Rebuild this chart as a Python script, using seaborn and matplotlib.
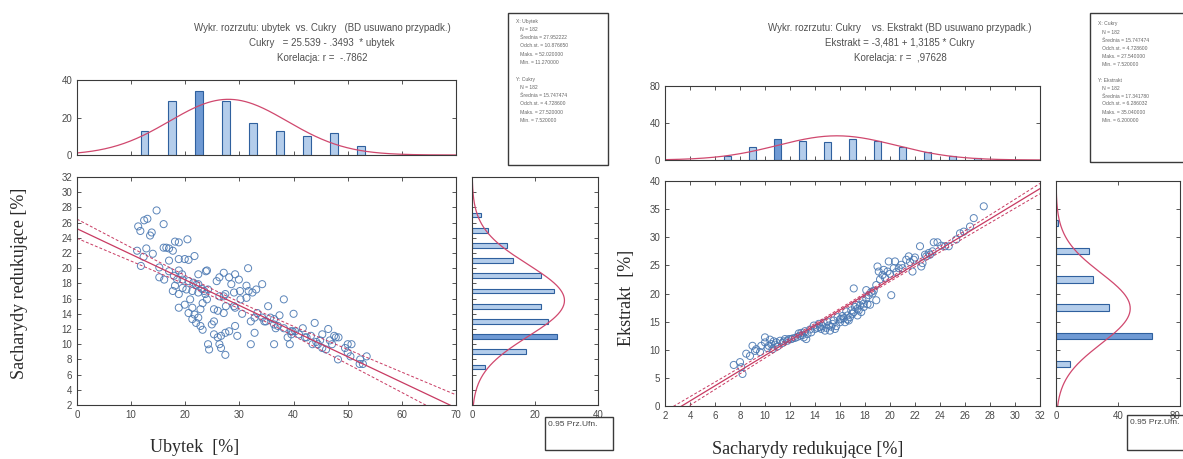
import numpy as np
import pandas as pd
import matplotlib
matplotlib.use("Agg")
import matplotlib.pyplot as plt
import seaborn as sns
from matplotlib.patches import Rectangle

# ---------------- data: left panel (Ubytek vs Cukry) ----------------
ubytek = [14.7, 13.0, 12.4, 11.3, 11.7, 13.8, 13.5, 16.0, 11.1, 12.8, 12.3, 11.8, 14.0, 16.0, 16.5,
          17.0, 18.1, 18.8, 20.4, 17.7, 18.8, 19.9, 20.6, 21.7, 17.0, 15.2, 15.2, 16.1, 17.0, 17.9,
          18.8, 19.4, 18.5, 19.5, 20.6, 21.5, 22.4, 23.8, 24.0, 22.4, 18.1, 17.7, 18.8, 19.5, 20.2,
          21.3, 22.4, 23.5, 24.2, 23.7, 20.9, 19.9, 18.8, 21.3, 20.6, 21.7, 22.4, 21.3, 22.0, 22.8,
          23.2, 22.8, 23.2, 24.0, 25.3, 26.0, 27.1, 26.3, 27.1, 27.4, 25.8, 26.3, 27.1, 28.1, 28.5,
          29.2, 29.9, 29.0, 30.1, 31.6, 29.0, 29.2, 30.2, 31.3, 31.7, 32.4, 33.1, 34.2, 32.1, 32.8,
          33.3, 34.2, 34.9, 35.3, 35.7, 36.4, 36.4, 36.7, 37.4, 38.2, 40.0, 39.5, 39.6, 38.9, 40.3,
          41.0, 41.7, 42.1, 43.2, 43.5, 44.2, 43.9, 44.9, 45.3, 46.4, 45.3, 46.0, 47.1, 47.8, 48.3,
          48.2, 50.0, 49.5, 50.7, 50.0, 50.5, 52.3, 52.8, 53.5, 52.2, 24.2, 24.4, 25.3, 26.0, 26.3,
          26.6, 27.4, 26.6, 27.4, 28.1, 29.2, 29.6, 24.9, 25.3, 32.1, 32.8, 36.4, 38.2, 39.3, 34.6,
          37.1, 39.8, 42.4, 44.5, 46.7, 47.5, 23.0, 22.0, 27.5, 30.5, 31.3]
cukry = [27.6, 26.5, 26.3, 25.5, 24.9, 24.7, 24.3, 25.8, 22.3, 22.6, 21.5, 20.3, 21.9, 22.7, 22.7,
         22.6, 23.5, 23.4, 23.8, 22.3, 21.2, 21.2, 21.1, 21.6, 21.0, 20.1, 18.8, 18.5, 19.6, 19.0,
         19.7, 19.2, 18.5, 18.5, 18.3, 18.1, 17.9, 19.6, 19.7, 19.2, 17.7, 17.0, 16.6, 17.4, 17.2,
         17.0, 16.8, 17.0, 17.2, 16.6, 15.9, 15.2, 14.8, 14.8, 14.1, 13.9, 13.5, 13.3, 12.8, 12.4,
         11.9, 14.6, 15.4, 15.9, 14.6, 14.4, 14.1, 16.3, 16.3, 16.6, 18.3, 18.8, 19.4, 18.8, 17.9,
         19.2, 18.5, 16.8, 17.0, 20.0, 15.0, 14.8, 15.9, 16.1, 17.0, 16.8, 17.2, 17.9, 13.0, 13.5,
         14.1, 13.5, 13.0, 15.0, 13.5, 13.3, 12.6, 12.1, 13.8, 15.9, 14.0, 11.7, 11.3, 10.9, 11.7,
         11.3, 12.1, 10.9, 11.1, 10.0, 10.3, 12.8, 10.5, 11.3, 12.0, 9.5, 9.3, 10.0, 10.9, 10.9,
         8.0, 10.0, 9.5, 10.0, 8.9, 8.4, 8.0, 7.4, 8.4, 7.4, 10.0, 9.3, 11.3, 10.9, 10.0,
         9.5, 8.6, 11.1, 11.5, 11.7, 12.4, 11.1, 12.6, 13.0, 10.0, 11.5, 10.0, 12.1, 10.0, 13.0,
         12.4, 11.7, 10.9, 10.0, 10.5, 11.1, 17.3, 17.8, 15.0, 14.0, 17.7]

ub_bin_centers = [12.5, 17.5, 22.5, 27.5, 32.5, 37.5, 42.5, 47.5, 52.5]
ub_counts = [13, 29, 34, 29, 17, 13, 10, 12, 5]
cu_bin_centers = [7, 9, 11, 13, 15, 17, 19, 21, 23, 25, 27]
cu_counts = [4, 17, 27, 24, 22, 26, 22, 13, 11, 5, 3]

left_title = ["Wykr. rozrzutu: ubytek  vs. Cukry   (BD usuwano przypadk.)",
              "Cukry   = 25.539 - .3493  * ubytek",
              "Korelacja: r =  -.7862"]
left_stats = ["X: Ubytek", "   N = 182", "   Średnia = 27.952222", "   Odch.st. = 10.876650",
              "   Maks. = 52.020000", "   Min. = 11.270000", "",
              "Y: Cukry", "   N = 182", "   Średnia = 15.747474", "   Odch.st. = 4.728600",
              "   Maks. = 27.520000", "   Min. = 7.520000"]
left_mean = [27.95, 15.75]
left_sd = [10.88, 4.73]

# ---------------- data: right panel (Cukry vs Ekstrakt) ----------------
cukry_r = [7.5, 8.1, 8.2, 8.0, 8.5, 9.0, 9.3, 9.7, 10.0, 10.0, 10.3, 10.5, 10.6, 10.9, 11.2,
           11.5, 11.8, 12.1, 12.4, 12.8, 13.1, 13.3, 13.4, 13.7, 14.0, 14.2, 14.5, 14.6, 14.8, 15.1,
           15.2, 15.4, 15.6, 15.7, 16.0, 16.1, 16.3, 16.4, 16.6, 16.7, 16.8, 17.0, 17.1, 17.2, 17.4,
           17.4, 17.6, 17.1, 17.7, 17.9, 17.9, 18.1, 18.1, 18.3, 18.5, 18.6, 18.9, 18.9, 19.1, 19.0,
           19.4, 19.5, 19.8, 19.9, 20.1, 20.3, 20.4, 20.7, 20.9, 21.3, 21.5, 21.8, 21.9, 22.4, 22.5,
           22.6, 22.9, 23.1, 23.2, 23.5, 23.8, 24.4, 24.7, 25.3, 25.6, 25.9, 26.4, 26.7, 27.5,
           10.2, 10.8, 11.0, 11.4, 11.9, 12.2, 12.6, 12.9, 13.2, 13.6, 13.9, 14.3, 14.7, 15.0, 15.5,
           15.8, 16.2, 16.5, 16.9, 17.3, 17.8, 18.2, 18.7, 19.2, 19.6, 20.0, 20.5, 21.0, 21.6, 22.0,
           22.8, 23.4, 24.1, 9.6, 9.2, 8.8, 10.4, 11.6, 12.7, 14.9, 16.6, 17.5, 13.0, 14.4, 15.3,
           16.0, 18.4, 10.7]
ekstrakt = [7.3, 6.9, 5.7, 7.8, 9.3, 10.7, 10.1, 10.7, 12.2, 11.3, 10.7, 11.0, 10.1, 11.3, 11.6,
            11.5, 11.6, 11.9, 12.1, 12.5, 12.2, 11.9, 12.8, 13.1, 13.7, 13.9, 13.7, 14.2, 13.4, 14.3,
            13.4, 14.6, 13.7, 14.2, 14.9, 15.5, 15.6, 14.9, 16.1, 15.2, 15.8, 16.4, 16.7, 17.6, 17.3,
            16.1, 17.9, 20.9, 16.7, 17.6, 18.2, 19.1, 20.6, 19.7, 20.3, 20.0, 18.8, 21.5, 23.9, 24.8,
            23.3, 24.2, 23.9, 25.7, 19.7, 24.5, 25.7, 24.5, 25.1, 26.0, 26.6, 23.9, 26.0, 28.4, 24.8,
            25.4, 26.6, 27.2, 26.9, 29.1, 29.1, 28.4, 28.4, 29.6, 30.7, 31.0, 31.9, 33.4, 35.5,
            10.3, 10.9, 10.6, 11.2, 11.9, 12.0, 12.3, 13.0, 13.3, 13.6, 14.3, 14.6, 14.8, 15.0, 15.2,
            15.8, 16.0, 16.8, 17.0, 18.0, 18.8, 18.1, 20.5, 22.5, 22.8, 23.5, 23.8, 24.5, 25.6, 26.4,
            26.9, 27.5, 28.5, 9.6, 9.8, 8.9, 11.8, 11.9, 12.9, 13.9, 15.4, 17.0, 12.6, 14.0, 14.1,
            15.4, 18.0, 11.5]

cr_bin_centers = [7, 9, 11, 13, 15, 17, 19, 21, 23, 25, 27]
cr_counts = [4, 14, 23, 21, 20, 23, 21, 14, 9, 4, 2]
ek_bin_centers = [7.5, 12.5, 17.5, 22.5, 27.5, 32.5]
ek_counts = [9, 62, 34, 24, 21, 1]

right_title = ["Wykr. rozrzutu: Cukry    vs. Ekstrakt (BD usuwano przypadk.)",
               "Ekstrakt = -3,481 + 1,3185 * Cukry",
               "Korelacja: r =  ,97628"]
right_stats = ["X: Cukry", "   N = 182", "   Średnia = 15.747474", "   Odch.st. = 4.728600",
               "   Maks. = 27.540000", "   Min. = 7.520000", "",
               "Y: Ekstrakt", "   N = 182", "   Średnia = 17.341780", "   Odch.st. = 6.286032",
               "   Maks. = 35.040000", "   Min. = 6.200000"]
right_mean = [15.75, 17.34]
right_sd = [4.73, 6.29]

# ---------------- styling ----------------
sns.set_theme(style="white")
plt.rcParams["font.family"] = ["Liberation Sans", "DejaVu Sans"]
W, H = 1183, 459
fig = plt.figure(figsize=(W / 100, H / 100), dpi=100)
fig.patch.set_facecolor("white")

PT_EDGE = "#4a78b2"
LINE_C = "#c83a62"
CURVE_C = "#d0486e"
BAR_FACE = "#b4cdeb"
BAR_EDGE = "#2f609e"
TXT = "#4a4a4a"


def fax(x0, y0, x1, y1):
    return fig.add_axes([x0 / W, 1 - y1 / H, (x1 - x0) / W, (y1 - y0) / H])


def style(ax, xl=True, yl=True):
    for s in ax.spines.values():
        s.set_color("#3a3a3a")
        s.set_linewidth(0.8)
    ax.tick_params(direction="in", length=3, width=0.6, colors="#3a3a3a",
                   top=True, right=True, bottom=True, left=True,
                   labelsize=7, labelcolor=TXT,
                   labelbottom=xl, labelleft=yl)
    ax.set_xlabel("")
    ax.set_ylabel("")
    ax.grid(False)
    ax.set_facecolor("white")


def scatter_panel(ax, x, y, xlim, ylim, xt, yt):
    x = np.asarray(x, float)
    y = np.asarray(y, float)
    sns.scatterplot(x=x, y=y, ax=ax, s=26, marker="o", linewidth=0.7, legend=False)
    col = ax.collections[-1]
    col.set_facecolor("none")
    col.set_edgecolor(PT_EDGE)
    col.set_alpha(0.9)
    # OLS fit and 95% confidence band of the mean
    b1, b0 = np.polyfit(x, y, 1)
    n = len(x)
    resid = y - (b0 + b1 * x)
    s = np.sqrt(np.sum(resid ** 2) / (n - 2))
    sxx = np.sum((x - x.mean()) ** 2)
    gx = np.linspace(xlim[0], xlim[1], 200)
    gy = b0 + b1 * gx
    se = s * np.sqrt(1 / n + (gx - x.mean()) ** 2 / sxx)
    sns.lineplot(x=gx, y=gy, ax=ax, color=LINE_C, linewidth=0.9, estimator=None)
    sns.lineplot(x=gx, y=gy + 1.97 * se, ax=ax, color=LINE_C, linewidth=0.7,
                 linestyle=(0, (3, 2)), estimator=None)
    sns.lineplot(x=gx, y=gy - 1.97 * se, ax=ax, color=LINE_C, linewidth=0.7,
                 linestyle=(0, (3, 2)), estimator=None)
    ax.set_xlim(*xlim)
    ax.set_ylim(*ylim)
    ax.set_xticks(xt)
    ax.set_yticks(yt)
    style(ax)


def hist_df(centers, counts):
    return pd.DataFrame({"c": np.asarray(centers, float), "w": np.asarray(counts, float)})


def bin_edges(centers, width):
    return [float(c - width / 2) for c in centers] + [float(centers[-1] + width / 2)]


def top_hist(ax, centers, counts, width, mean, sd, xlim, xt, ylim, yt):
    df = hist_df(centers, counts)
    sns.histplot(data=df, x="c", weights="w", bins=bin_edges(centers, width), shrink=0.28,
                 ax=ax, color=BAR_FACE, edgecolor=BAR_EDGE, linewidth=0.8, alpha=1)
    rects = list(ax.patches)
    if rects:
        big = max(rects, key=lambda r: r.get_height())
        big.set_facecolor("#6f9ad4")
    gx = np.linspace(xlim[0], xlim[1], 300)
    gy = sum(counts) * width / (sd * np.sqrt(2 * np.pi)) * np.exp(-0.5 * ((gx - mean) / sd) ** 2)
    sns.lineplot(x=gx, y=gy, ax=ax, color=CURVE_C, linewidth=0.9, estimator=None)
    ax.set_xlim(*xlim)
    ax.set_ylim(*ylim)
    ax.set_xticks(xt)
    ax.set_yticks(yt)
    style(ax, xl=False)


def side_hist(ax, centers, counts, width, mean, sd, ylim, yt, xlim, xt, shrink):
    df = hist_df(centers, counts)
    sns.histplot(data=df, y="c", weights="w", bins=bin_edges(centers, width), shrink=shrink,
                 ax=ax, color=BAR_FACE, edgecolor=BAR_EDGE, linewidth=0.8, alpha=1)
    rects = list(ax.patches)
    if rects:
        big = max(rects, key=lambda r: r.get_width())
        big.set_facecolor("#6f9ad4")
    gy = np.linspace(ylim[0], ylim[1], 300)
    gx = sum(counts) * width / (sd * np.sqrt(2 * np.pi)) * np.exp(-0.5 * ((gy - mean) / sd) ** 2)
    sns.lineplot(x=gx, y=gy, ax=ax, color=CURVE_C, linewidth=0.9, sort=False,
                 estimator=None, orient="y")
    ax.set_xlim(*xlim)
    ax.set_ylim(*ylim)
    ax.set_xticks(xt)
    ax.set_yticks(yt)
    style(ax, yl=False)


def stats_box(x0, y0, x1, y1, lines, tx, ty, dy):
    fig.patches.append(Rectangle((x0 / W, 1 - y1 / H), (x1 - x0) / W, (y1 - y0) / H,
                                 transform=fig.transFigure, fill=False,
                                 edgecolor="#3a3a3a", linewidth=1.0))
    for i, ln in enumerate(lines):
        fig.text(tx / W, 1 - (ty + i * dy) / H, ln, fontsize=3.6, color="#666666",
                 va="center", ha="left")


def ci_box(x0, y0, x1, y1):
    fig.patches.append(Rectangle((x0 / W, 1 - y1 / H), (x1 - x0) / W, (y1 - y0) / H,
                                 transform=fig.transFigure, fill=False,
                                 edgecolor="#3a3a3a", linewidth=1.0))
    fig.text((x0 + 3) / W, 1 - (y0 + 8) / H, "0.95 Prz.Ufn.", fontsize=6,
             color="#444444", va="center", ha="left")


# ---------------- left composite ----------------
ax_ls = fax(77, 177, 456, 405)
scatter_panel(ax_ls, ubytek, cukry, (0, 70), (2, 32), np.arange(0, 71, 10), np.arange(2, 33, 2))
ax_lt = fax(77, 80, 456, 155)
top_hist(ax_lt, ub_bin_centers, ub_counts, 5, left_mean[0], left_sd[0],
         (0, 70), np.arange(0, 71, 10), (0, 40), [0, 20, 40])
ax_lr = fax(472, 177, 598, 405)
side_hist(ax_lr, cu_bin_centers, cu_counts, 2, left_mean[1], left_sd[1],
          (2, 32), np.arange(2, 33, 2), (0, 40), [0, 20, 40], 0.32)

for i, t in enumerate(left_title):
    fig.text(322 / W, 1 - (28 + 15 * i) / H, t, fontsize=7, color="#505050",
             ha="center", va="center")
stats_box(508, 13, 608, 165, left_stats, 516, 21, 8.3)
ci_box(545, 417, 613, 450)

fig.text(20 / W, 1 - 283 / H, "Sacharydy redukujące [%]", rotation=90,
         family=["Liberation Serif", "DejaVu Serif"], fontsize=13, color="#2a2a2a",
         ha="center", va="center")
fig.text(195 / W, 1 - 448 / H, "Ubytek  [%]", family=["Liberation Serif", "DejaVu Serif"],
         fontsize=13, color="#2a2a2a", ha="center", va="center")

# ---------------- right composite ----------------
ax_rs = fax(665, 181, 1040, 406)
scatter_panel(ax_rs, cukry_r, ekstrakt, (2, 32), (0, 40), np.arange(2, 33, 2), np.arange(0, 41, 5))
ax_rt = fax(665, 86, 1040, 160)
top_hist(ax_rt, cr_bin_centers, cr_counts, 2, right_mean[0], right_sd[0],
         (2, 32), np.arange(2, 33, 2), (0, 80), [0, 40, 80])
ax_rr = fax(1056, 181, 1180, 406)
side_hist(ax_rr, ek_bin_centers, ek_counts, 5, right_mean[1], right_sd[1],
          (0, 40), np.arange(0, 41, 5), (0, 80), [0, 40, 80], 0.22)
ax_rr.get_xticklabels()[-1].set_horizontalalignment("right")

for i, t in enumerate(right_title):
    fig.text(900 / W, 1 - (28 + 15 * i) / H, t, fontsize=7, color="#505050",
             ha="center", va="center")
stats_box(1090, 13, 1195, 162, right_stats, 1098, 24, 8.0)
ci_box(1127, 415, 1195, 450)

fig.text(627 / W, 1 - 298 / H, "Ekstrakt  [%]", rotation=90,
         family=["Liberation Serif", "DejaVu Serif"], fontsize=13, color="#2a2a2a",
         ha="center", va="center")
fig.text(808 / W, 1 - 450 / H, "Sacharydy redukujące [%]",
         family=["Liberation Serif", "DejaVu Serif"], fontsize=13, color="#2a2a2a",
         ha="center", va="center")

fig.savefig("out.png", dpi=100, facecolor="white")
